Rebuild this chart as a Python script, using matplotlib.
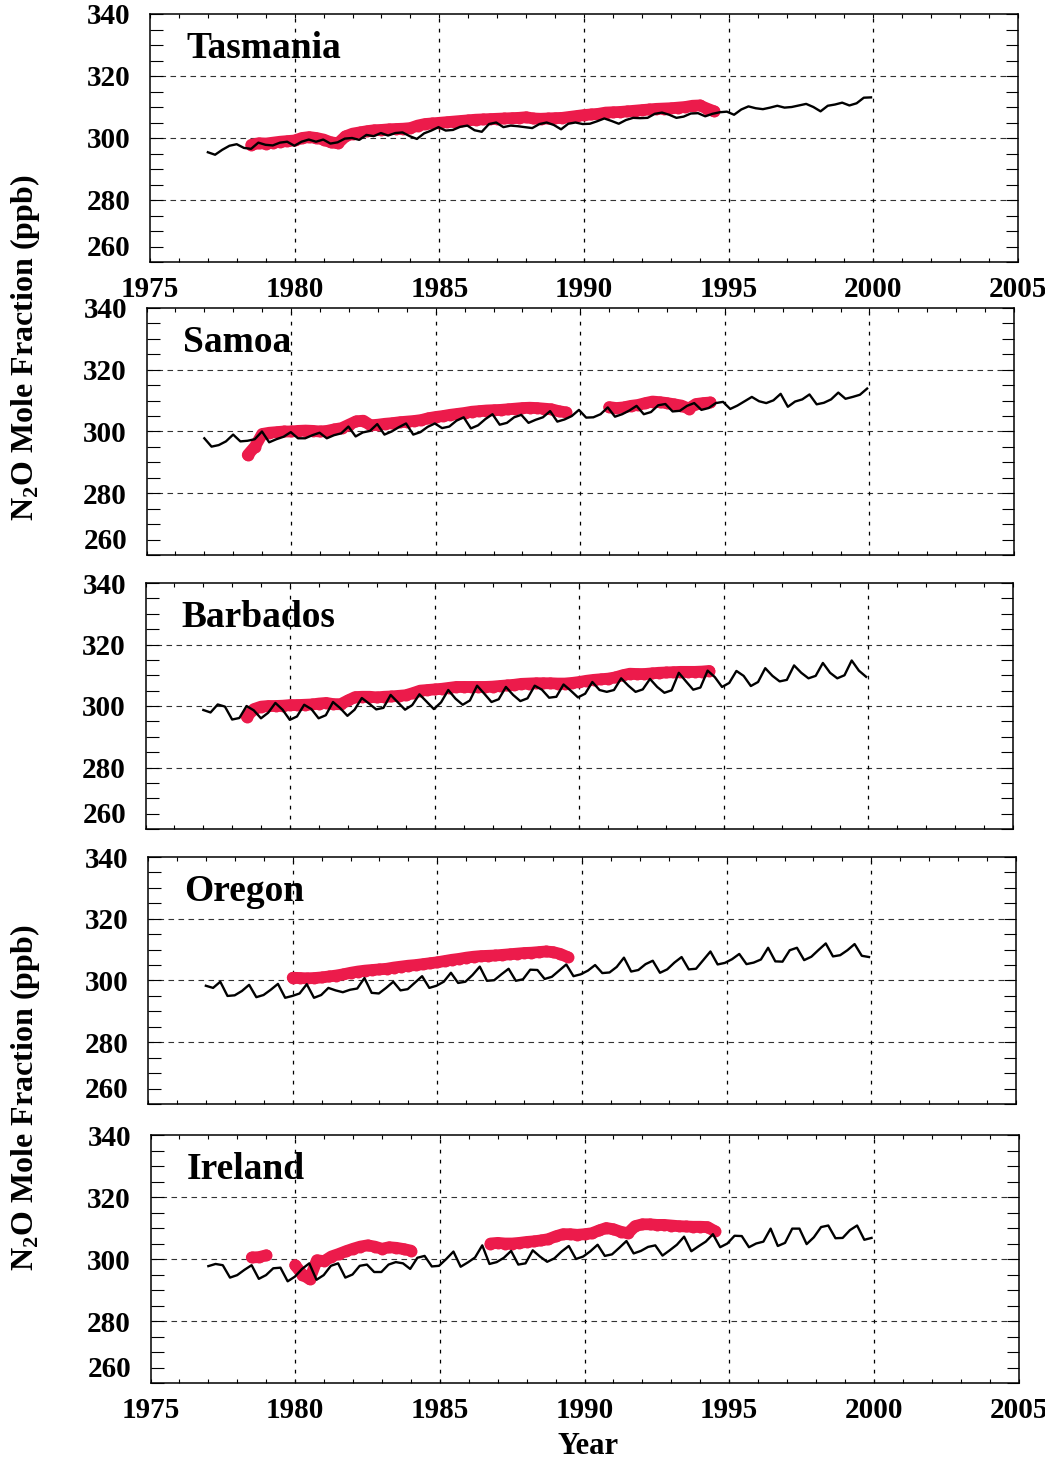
#!/usr/bin/env python
"""
N2O mole fraction at five stations: monthly record (black) vs. red series.
"""

import numpy as np
import matplotlib
matplotlib.use("Agg")
import matplotlib.pyplot as plt
from matplotlib.ticker import MultipleLocator

plt.rcParams["font.family"] = ["Liberation Serif", "DejaVu Serif"]
plt.rcParams["font.weight"] = "bold"
plt.rcParams["mathtext.fontset"] = "custom"
plt.rcParams["mathtext.rm"] = "Liberation Serif:bold"
plt.rcParams["mathtext.bf"] = "Liberation Serif:bold"

stations = ["Tasmania", "Samoa", "Barbados", "Oregon", "Ireland"]

# black line: quarterly values, 1977.0 -> 2000
black_start = 1977.0
black_end = 1999.92

tas_black = [295.4, 294.6, 296.2, 297.5, 298.0, 296.8, 296.5, 298.5,
             297.8, 297.6, 298.5, 298.8, 297.5, 298.8, 299.5, 298.8,
             299.5, 298.2, 298.6, 299.8, 300.0, 299.4, 301.0, 300.6,
             301.6, 300.8, 301.6, 301.8, 300.6, 299.7, 301.5, 302.4,
             303.5, 302.4, 302.6, 303.6, 304.0, 302.5, 302.0, 304.5,
             305.0, 303.5, 304.0, 303.8, 303.5, 303.2, 304.5, 305.0,
             304.2, 302.8, 304.6, 305.0, 304.5, 304.6, 305.4, 306.3,
             305.5, 304.6, 305.8, 306.5, 306.4, 306.5, 307.8, 308.2,
             307.5, 306.5, 306.9, 307.9, 308.0, 307.0, 307.8, 308.3,
             308.5, 307.5, 309.2, 310.2, 309.6, 309.3, 309.8, 310.4,
             309.8, 310.0, 310.5, 311.0, 310.0, 308.6, 310.4, 310.8,
             311.4, 310.5, 311.2, 313.0, 313.1]

sam_black = [297.8, 295.1, 295.6, 296.8, 299.0, 296.8, 297.0, 297.5,
             300.0, 296.5, 297.5, 298.3, 299.8, 297.8, 297.8, 298.8,
             299.6, 297.8, 298.8, 299.4, 301.6, 298.4, 299.7, 300.2,
             302.4, 299.0, 300.0, 301.4, 302.6, 299.0, 299.8, 301.5,
             302.6, 301.1, 301.6, 303.5, 304.6, 301.0, 302.0, 304.0,
             305.6, 302.2, 302.8, 304.6, 305.4, 302.8, 303.8, 304.6,
             306.6, 303.2, 303.9, 305.0, 307.0, 304.5, 304.6, 305.6,
             307.8, 304.8, 305.6, 306.8, 308.3, 305.6, 306.3, 308.5,
             308.9, 306.5, 306.7, 308.3, 309.2, 307.0, 307.6, 309.2,
             309.6, 307.3, 308.4, 309.8, 311.2, 309.8, 309.2, 310.1,
             312.2, 308.0, 309.7, 310.4, 312.0, 308.8, 309.3, 310.4,
             312.6, 310.6, 311.2, 311.9, 313.9]

bar_black = [298.7, 297.9, 300.5, 299.8, 295.6, 296.1, 300.0, 298.6,
             296.0, 297.8, 301.0, 298.8, 295.5, 296.6, 300.4, 299.0,
             296.0, 297.0, 301.3, 299.3, 296.8, 298.8, 302.6, 300.8,
             298.9, 299.4, 303.6, 301.2, 298.8, 300.3, 303.8, 301.4,
             299.0, 301.2, 305.2, 302.4, 300.4, 301.8, 306.6, 304.0,
             301.3, 302.2, 306.2, 303.6, 301.6, 302.5, 306.6, 305.3,
             302.7, 303.0, 307.0, 305.0, 302.8, 304.0, 307.8, 305.2,
             304.6, 305.2, 309.0, 306.6, 304.6, 305.4, 308.8, 306.2,
             304.3, 305.1, 310.8, 308.0, 305.3, 306.0, 311.5, 309.4,
             306.2, 307.5, 311.4, 309.8, 306.5, 307.8, 312.3, 309.8,
             308.0, 308.5, 313.2, 310.8, 309.0, 309.8, 314.0, 310.8,
             309.0, 310.0, 314.8, 311.5, 309.5]

ore_black = [298.3, 297.6, 299.6, 295.0, 295.2, 296.6, 298.6, 294.6,
             295.3, 297.0, 298.9, 294.4, 295.0, 295.8, 298.8, 294.4,
             295.3, 297.6, 296.8, 296.2, 297.0, 297.4, 300.8, 296.0,
             295.8, 297.6, 299.6, 296.8, 297.2, 299.3, 301.4, 297.6,
             298.3, 299.6, 302.5, 299.2, 299.6, 301.8, 304.5, 299.9,
             300.1, 302.0, 303.8, 299.9, 300.4, 303.5, 303.4, 300.5,
             301.2, 303.2, 305.2, 301.4, 302.0, 303.2, 305.0, 302.4,
             302.6, 304.4, 307.4, 302.9, 303.4, 305.3, 306.4, 302.5,
             303.6, 305.8, 307.6, 303.6, 303.8, 306.6, 309.4, 305.2,
             305.7, 306.9, 308.6, 305.3, 305.8, 306.8, 310.6, 306.2,
             306.1, 309.8, 310.6, 306.6, 307.7, 309.9, 312.0, 307.8,
             308.2, 309.8, 311.8, 308.0, 307.6]

ire_black = [297.7, 298.4, 298.0, 294.0, 294.8, 296.5, 298.0, 293.6,
             294.8, 297.0, 297.2, 292.8, 294.3, 296.8, 298.6, 293.3,
             294.8, 297.8, 298.6, 294.0, 295.0, 297.8, 298.2, 295.8,
             295.8, 298.2, 299.0, 298.6, 296.8, 300.4, 301.0, 297.6,
             297.8, 300.0, 302.4, 297.5, 298.9, 300.5, 304.4, 298.4,
             299.0, 300.4, 302.6, 298.2, 298.6, 302.8, 300.8, 299.1,
             300.2, 302.4, 304.2, 300.0, 300.8, 302.5, 304.6, 301.0,
             301.5, 303.6, 305.8, 301.8, 302.6, 303.9, 304.4, 301.1,
             302.8, 304.6, 307.2, 302.5, 304.1, 305.6, 308.0, 303.8,
             305.0, 307.5, 307.4, 303.8, 305.0, 305.6, 309.8, 304.2,
             305.2, 309.8, 309.8, 304.8, 307.0, 310.3, 310.8, 306.7,
             306.8, 309.3, 310.8, 306.2, 306.8]

# red series: quarterly values from a start year (nan = no data)
nan = np.nan
tas_red_start = 1978.5
tas_red = [297.8, 298.3, 298.2, 298.5, 298.8, 299.0, 299.2, 300.0,
           300.3, 300.0, 299.5, 298.6, 298.3, 300.5, 301.4, 301.8,
           302.2, 302.5, 302.6, 302.8, 302.9, 303.0, 303.2, 304.0,
           304.5, 304.7, 304.9, 305.1, 305.3, 305.5, 305.7, 305.9,
           306.0, 306.1, 306.2, 306.3, 306.4, 306.5, 306.7, 306.3,
           306.2, 306.3, 306.4, 306.5, 306.8, 307.1, 307.4, 307.6,
           307.8, 308.2, 308.3, 308.4, 308.6, 308.8, 309.0, 309.2,
           309.4, 309.5, 309.6, 309.8, 310.0, 310.4, 310.5, 309.5,
           308.6]

sam_red_start = 1978.5
sam_red = [292.4, 295.1, 299.2, 299.6, 299.8, 300.0, 300.0, 300.2,
           300.3, 300.2, 300.0, 300.2, 300.7, 301.1, 302.2, 303.3,
           303.5, 302.0, 302.2, 302.5, 302.7, 303.0, 303.2, 303.4,
           303.7, 304.3, 304.7, 305.0, 305.4, 305.7, 306.0, 306.4,
           306.6, 306.8, 306.9, 307.0, 307.2, 307.4, 307.6, 307.7,
           307.6, 307.4, 307.2, 306.6, 306.2, nan, nan, nan,
           nan, nan, 307.9, 307.6, 307.8, 308.3, 308.6, 309.2,
           309.7, 309.5, 309.2, 308.8, 308.4, 307.4, 308.9, 309.2,
           309.4]

bar_red_start = 1978.5
bar_red = [296.5, 299.0, 299.8, 300.0, 300.0, 300.1, 300.3, 300.3,
           300.4, 300.5, 300.8, 301.0, 300.6, 300.6, 301.8, 302.9,
           303.0, 303.0, 302.8, 303.0, 303.1, 303.3, 303.5, 304.2,
           305.0, 305.2, 305.4, 305.6, 305.9, 306.2, 306.2, 306.2,
           306.2, 306.2, 306.3, 306.5, 306.7, 306.9, 307.2, 307.3,
           307.4, 307.4, 307.4, 307.3, 307.3, 307.5, 307.8, 308.2,
           308.5, 308.7, 308.9, 309.3, 310.0, 310.5, 310.4, 310.4,
           310.6, 310.8, 310.9, 311.0, 311.1, 311.1, 311.1, 311.2,
           311.4]

ore_red_start = 1980.0
ore_red = [300.9, 300.8, 300.7, 300.8, 301.0, 301.3, 301.6, 302.0,
           302.5, 302.9, 303.2, 303.4, 303.6, 303.8, 304.2, 304.5,
           304.8, 305.0, 305.3, 305.6, 305.9, 306.3, 306.7, 307.0,
           307.4, 307.7, 307.9, 308.0, 308.1, 308.3, 308.5, 308.7,
           308.9, 309.0, 309.2, 309.4, 309.2, 308.6, 307.6]

ire_red_start = 1978.5
ire_red = [300.5, 300.6, 301.2, nan, nan, nan, 298.0, 295.0,
           293.5, 299.6, 299.3, 300.8, 301.6, 302.5, 303.3, 304.0,
           304.4, 304.0, 303.3, 303.8, 303.6, 303.2, 302.7, nan,
           nan, nan, nan, nan, nan, nan, nan, nan,
           nan, 305.0, 305.2, 305.0, 305.0, 305.2, 305.5, 305.7,
           306.0, 306.4, 307.3, 308.0, 308.0, 307.8, 308.0, 308.3,
           309.2, 310.0, 309.6, 308.8, 308.3, 310.6, 311.2, 311.2,
           311.0, 311.0, 310.8, 310.6, 310.5, 310.4, 310.4, 310.3,
           309.0]

black_data = [tas_black, sam_black, bar_black, ore_black, ire_black]
red_data = [(tas_red_start, tas_red), (sam_red_start, sam_red),
            (bar_red_start, bar_red), (ore_red_start, ore_red),
            (ire_red_start, ire_red)]

y_ticks = [260, 280, 300, 320, 340]
y_grid = [280, 300, 320]
x_ticks = [1975, 1980, 1985, 1990, 1995, 2000, 2005]
x_grid = [1980, 1985, 1990, 1995, 2000]

# axes boxes in pixels: left, right, top, bottom
W, H = 1045, 1465
boxes = [(150, 1018, 14, 262), (146.5, 1014, 308, 555),
         (145.5, 1013, 583, 829), (148, 1016, 857, 1104),
         (150.5, 1018.5, 1135, 1383)]

red = "#EC1B4B"

fig = plt.figure(figsize=(W / 100, H / 100), dpi=100)

for i, name in enumerate(stations):
    l, r, t, b = boxes[i]
    ax = fig.add_axes([l / W, 1 - b / H, (r - l) / W, (b - t) / H])

    for g in y_grid:
        ax.axhline(g, color="#333333", lw=0.8, ls=(0, (5, 4)), zorder=1)
    for g in x_grid:
        ax.axvline(g, color="black", lw=0.9, ls=(0, (3, 5)), zorder=1)

    start, vals = red_data[i]
    rx = start + 0.25 * np.arange(len(vals))
    ax.plot(rx, vals, "-o", color=red, lw=8.5, ms=8.6, mec="none",
            solid_capstyle="round", solid_joinstyle="round", zorder=2)

    bvals = black_data[i]
    bx = np.linspace(black_start, black_end, len(bvals))
    ax.plot(bx, bvals, color="black", lw=1.7, zorder=3)

    ax.set_xlim(1975, 2005)
    ax.set_ylim(260, 340)
    ax.set_yticks(y_ticks)
    ax.yaxis.set_minor_locator(MultipleLocator(5))
    ax.set_xticks(x_ticks)
    ax.xaxis.set_minor_locator(MultipleLocator(1))
    ax.tick_params(axis="y", which="both", direction="in", left=True,
                   right=True, length=9, width=0.8, labelsize=21, pad=14)
    ax.tick_params(axis="x", which="both", direction="in", top=True,
                   bottom=True, length=3, width=0.8, labelsize=21, pad=10)
    for lab in ax.get_yticklabels():
        lab.set_fontweight("bold")
    ylabs = ax.get_yticklabels()
    ylabs[0].set_verticalalignment("bottom")
    if i in (0, len(stations) - 1):
        for lab in ax.get_xticklabels():
            lab.set_fontweight("bold")
    else:
        ax.tick_params(axis="x", labelbottom=False)
    for s in ax.spines.values():
        s.set_linewidth(1.1)

    ax.text(0.042, 0.86, name, transform=ax.transAxes, fontsize=27,
            fontweight="bold", va="center", ha="left")

ylabel = r"N$_{\rm 2}$O Mole Fraction (ppb)"
fig.text(25 / W, 1 - 348 / H, ylabel, rotation=90, fontsize=23,
         fontweight="bold", ha="center", va="center")
fig.text(25 / W, 1 - 1098 / H, ylabel, rotation=90, fontsize=23,
         fontweight="bold", ha="center", va="center")
fig.text(588 / W, 1 - 1447 / H, "Year", fontsize=22, fontweight="bold",
         ha="center", va="center")

fig.savefig("out.png", dpi=100)
